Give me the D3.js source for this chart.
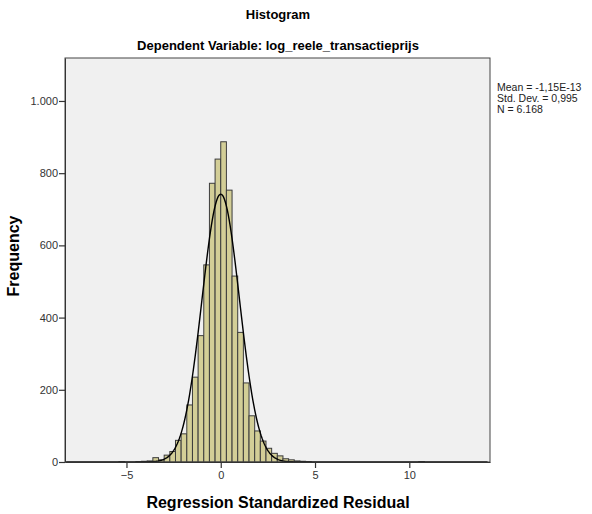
<!DOCTYPE html>
<html>
<head>
<meta charset="utf-8">
<script src="https://cdn.jsdelivr.net/npm/d3@7"></script>
<style>
body { margin: 0; background: #fff; }
svg text { font-family: "Liberation Sans", Arial, sans-serif; }
</style>
</head>
<body>
<svg id="chart" width="592" height="514"></svg>
<script>
// lower edge of every bin (width 0.3) and the count
const binStarts = [-5.4, -4.5, -4.2, -3.9, -3.6, -3.3, -3.0, -2.7, -2.4, -2.1, -1.8, -1.5, -1.2, -0.9, -0.6, -0.3,
                   0.0, 0.3, 0.6, 0.9, 1.2, 1.5, 1.8, 2.1, 2.4, 2.7, 3.0, 3.3, 3.6, 3.9, 4.2, 4.5, 10.5];
const counts    = [1, 1, 2, 3, 12, 6, 19, 29, 60, 78, 158, 235, 350, 546, 772, 839,
                   887, 753, 515, 359, 219, 128, 86, 58, 38, 24, 17, 9, 6, 3, 2, 1, 1];
const binWidth = 0.3;

const xTicks = [-5, 0, 5, 10];
const yTicks = [0, 200, 400, 600, 800, 1000];
const yTickLabels = ["0", "200", "400", "600", "800", "1.000"];
const statLines = ["Mean = -1,15E-13", "Std. Dev. = 0,995", "N = 6.168"];
const mean = -1.15e-13, sd = 0.995, n = 6168;

const svg = d3.select("#chart");
const m = {left: 65, top: 58, right: 102, bottom: 52};
const w = 592 - m.left - m.right;
const h = 514 - m.top - m.bottom;

const x = d3.scaleLinear([-8.26, 14.28], [0, w]);
const y = d3.scaleLinear([0, 1119], [h, 0]);

const g = svg.append("g").attr("transform", `translate(${m.left},${m.top})`);

g.append("rect")
    .attr("width", w).attr("height", h)
    .attr("fill", "#f0f0f0");

g.selectAll("rect.bar")
    .data(binStarts.map((b, i) => ({b, c: counts[i]})))
    .join("rect")
    .attr("class", "bar")
    .attr("x", d => x(d.b))
    .attr("width", d => x(d.b + binWidth) - x(d.b))
    .attr("y", d => y(d.c))
    .attr("height", d => y(0) - y(d.c))
    .attr("fill", "#d3ce97")
    .attr("stroke", "#3c3c3c")
    .attr("stroke-width", 1);

// fitted normal curve from the stated statistics
const curve = d3.range(-8.2, 14.2, 0.05).map(v => ({
    v, f: n * binWidth * Math.exp(-0.5 * ((v - mean) / sd) ** 2) / (sd * Math.sqrt(2 * Math.PI))
}));
g.append("path")
    .datum(curve)
    .attr("fill", "none")
    .attr("stroke", "#000")
    .attr("stroke-width", 1.4)
    .attr("d", d3.line().x(d => x(d.v)).y(d => y(d.f)));

g.append("rect")
    .attr("width", w).attr("height", h)
    .attr("fill", "none")
    .attr("stroke", "#444")
    .attr("stroke-width", 1);

const yAxis = g.append("g")
    .call(d3.axisLeft(y).tickValues(yTicks).tickFormat((d, i) => yTickLabels[i]).tickSize(6).tickSizeOuter(0));
const xAxis = g.append("g")
    .attr("transform", `translate(0,${h})`)
    .call(d3.axisBottom(x).tickValues(xTicks).tickSize(6).tickSizeOuter(0));

[xAxis, yAxis].forEach(a => {
    a.select(".domain").attr("stroke", "#333");
    a.selectAll(".tick line").attr("stroke", "#333").attr("stroke-width", 1.2);
    a.selectAll("text").attr("fill", "#333").style("font-size", "11px")
        .style("font-family", "'Liberation Sans', Arial, sans-serif");
});
yAxis.selectAll("text").attr("x", -7);
xAxis.selectAll("text").attr("y", 9);

svg.append("text")
    .attr("x", 278).attr("y", 19)
    .attr("text-anchor", "middle")
    .style("font-size", "13px").style("font-weight", "bold")
    .text("Histogram");

svg.append("text")
    .attr("x", 278).attr("y", 50)
    .attr("text-anchor", "middle")
    .style("font-size", "13px").style("font-weight", "bold")
    .text("Dependent Variable: log_reele_transactieprijs");

svg.append("text")
    .attr("transform", `translate(19,256) rotate(-90)`)
    .attr("text-anchor", "middle")
    .style("font-size", "16px").style("font-weight", "bold")
    .text("Frequency");

svg.append("text")
    .attr("x", 278).attr("y", 508)
    .attr("text-anchor", "middle")
    .style("font-size", "16px").style("font-weight", "bold")
    .text("Regression Standardized Residual");

svg.append("g")
    .selectAll("text")
    .data(statLines)
    .join("text")
    .attr("x", 497)
    .attr("y", (d, i) => 91 + i * 11)
    .attr("fill", "#222")
    .style("font-size", "10.5px")
    .text(d => d);
</script>
</body>
</html>
